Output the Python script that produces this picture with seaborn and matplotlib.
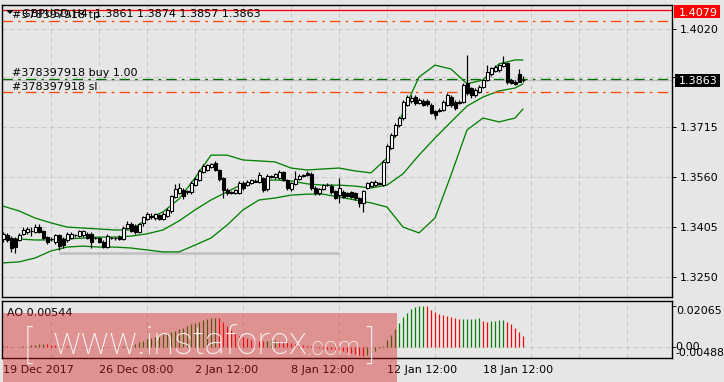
import numpy as np
import pandas as pd
import matplotlib
matplotlib.use("Agg")
import matplotlib.pyplot as plt
from matplotlib.patches import Rectangle, Polygon
from matplotlib.ticker import FixedLocator
import seaborn as sns

# ---------------- data ----------------
opens = [1.3369, 1.3382, 1.3372, 1.3370, 1.3366, 1.3385, 1.3390, 1.3393, 1.3391, 1.3405,
         1.3393, 1.3374, 1.3368, 1.3360, 1.3380, 1.3370, 1.3366, 1.3372, 1.3380, 1.3378,
         1.3380, 1.3386, 1.3386, 1.3372, 1.3372, 1.3360, 1.3345, 1.3372, 1.3372, 1.3375,
         1.3370, 1.3403, 1.3416, 1.3410, 1.3391, 1.3418, 1.3432, 1.3440, 1.3434, 1.3442,
         1.3432, 1.3440, 1.3455, 1.3500, 1.3512, 1.3521, 1.3515, 1.3515, 1.3537, 1.3552,
         1.3578, 1.3583, 1.3592, 1.3605, 1.3583, 1.3557, 1.3521, 1.3512, 1.3511, 1.3511,
         1.3542, 1.3536, 1.3542, 1.3547, 1.3547, 1.3558, 1.3524, 1.3562, 1.3560, 1.3558,
         1.3576, 1.3552, 1.3524, 1.3539, 1.3555, 1.3565, 1.3573, 1.3572, 1.3528, 1.3511,
         1.3524, 1.3535, 1.3534, 1.3517, 1.3505, 1.3514, 1.3511, 1.3514, 1.3511, 1.3495,
         1.3480, 1.3528, 1.3534, 1.3536, 1.3540, 1.3536, 1.3609, 1.3652, 1.3691, 1.3722,
         1.3744, 1.3784, 1.3797, 1.3809, 1.3790, 1.3798, 1.3797, 1.3784, 1.3767, 1.3766,
         1.3769, 1.3784, 1.3810, 1.3795, 1.3790, 1.3795, 1.3852, 1.3836, 1.3815, 1.3826,
         1.3841, 1.3862, 1.3880, 1.3890, 1.3893, 1.3905, 1.3914, 1.3862, 1.3857, 1.3880,
         1.3861]
highs = [1.3391, 1.3388, 1.3378, 1.3375, 1.3388, 1.3405, 1.3406, 1.3405, 1.3414, 1.3416,
         1.3398, 1.3378, 1.3376, 1.3386, 1.3385, 1.3375, 1.3390, 1.3390, 1.3386, 1.3398,
         1.3398, 1.3392, 1.3390, 1.3376, 1.3376, 1.3365, 1.3385, 1.3376, 1.3376, 1.3380,
         1.3408, 1.3424, 1.3422, 1.3416, 1.3420, 1.3440, 1.3452, 1.3450, 1.3450, 1.3448,
         1.3452, 1.3465, 1.3505, 1.3540, 1.3543, 1.3527, 1.3522, 1.3548, 1.3560, 1.3586,
         1.3600, 1.3602, 1.3606, 1.3612, 1.3586, 1.3560, 1.3526, 1.3518, 1.3525, 1.3548,
         1.3548, 1.3552, 1.3556, 1.3554, 1.3578, 1.3562, 1.3572, 1.3568, 1.3574, 1.3582,
         1.3580, 1.3556, 1.3546, 1.3580, 1.3570, 1.3570, 1.3580, 1.3576, 1.3532, 1.3528,
         1.3540, 1.3542, 1.3538, 1.3520, 1.3557, 1.3520, 1.3515, 1.3518, 1.3515, 1.3500,
         1.3522, 1.3546, 1.3550, 1.3552, 1.3546, 1.3614, 1.3662, 1.3697, 1.3728, 1.3750,
         1.3800, 1.3815, 1.3815, 1.3815, 1.3806, 1.3803, 1.3803, 1.3790, 1.3770, 1.3775,
         1.3800, 1.3822, 1.3815, 1.3800, 1.3800, 1.3852, 1.3939, 1.3840, 1.3836, 1.3846,
         1.3866, 1.3908, 1.3903, 1.3908, 1.3912, 1.3937, 1.3918, 1.3866, 1.3862, 1.3895,
         1.3874]
lows = [1.3360, 1.3360, 1.3329, 1.3326, 1.3362, 1.3380, 1.3386, 1.3378, 1.3388, 1.3388,
        1.3368, 1.3355, 1.3362, 1.3355, 1.3335, 1.3341, 1.3360, 1.3368, 1.3376, 1.3374,
        1.3375, 1.3368, 1.3341, 1.3368, 1.3356, 1.3342, 1.3342, 1.3368, 1.3366, 1.3365,
        1.3366, 1.3400, 1.3390, 1.3386, 1.3388, 1.3410, 1.3428, 1.3430, 1.3428, 1.3428,
        1.3428, 1.3436, 1.3450, 1.3495, 1.3508, 1.3493, 1.3510, 1.3510, 1.3533, 1.3548,
        1.3575, 1.3580, 1.3588, 1.3580, 1.3550, 1.3496, 1.3505, 1.3508, 1.3507, 1.3507,
        1.3520, 1.3532, 1.3538, 1.3545, 1.3543, 1.3515, 1.3518, 1.3558, 1.3556, 1.3554,
        1.3548, 1.3522, 1.3518, 1.3535, 1.3552, 1.3562, 1.3563, 1.3520, 1.3505, 1.3506,
        1.3520, 1.3532, 1.3510, 1.3492, 1.3480, 1.3495, 1.3498, 1.3495, 1.3490, 1.3469,
        1.3454, 1.3524, 1.3530, 1.3532, 1.3536, 1.3532, 1.3604, 1.3648, 1.3686, 1.3716,
        1.3738, 1.3780, 1.3790, 1.3785, 1.3786, 1.3780, 1.3782, 1.3755, 1.3741, 1.3762,
        1.3765, 1.3780, 1.3778, 1.3768, 1.3786, 1.3790, 1.3815, 1.3805, 1.3810, 1.3822,
        1.3836, 1.3858, 1.3875, 1.3886, 1.3888, 1.3902, 1.3849, 1.3850, 1.3845, 1.3855,
        1.3857]
closes = [1.3385, 1.3366, 1.3341, 1.3343, 1.3382, 1.3398, 1.3400, 1.3395, 1.3405, 1.3392,
          1.3372, 1.3360, 1.3370, 1.3382, 1.3346, 1.3350, 1.3385, 1.3386, 1.3382, 1.3393,
          1.3393, 1.3373, 1.3360, 1.3372, 1.3360, 1.3345, 1.3378, 1.3373, 1.3371, 1.3369,
          1.3403, 1.3416, 1.3394, 1.3391, 1.3415, 1.3437, 1.3445, 1.3438, 1.3445, 1.3432,
          1.3448, 1.3460, 1.3501, 1.3524, 1.3527, 1.3501, 1.3519, 1.3543, 1.3555, 1.3581,
          1.3594, 1.3598, 1.3601, 1.3583, 1.3554, 1.3521, 1.3511, 1.3515, 1.3521, 1.3542,
          1.3526, 1.3546, 1.3552, 1.3550, 1.3567, 1.3521, 1.3565, 1.3564, 1.3570, 1.3578,
          1.3552, 1.3526, 1.3542, 1.3555, 1.3565, 1.3567, 1.3567, 1.3526, 1.3511, 1.3524,
          1.3536, 1.3537, 1.3514, 1.3497, 1.3526, 1.3500, 1.3503, 1.3500, 1.3495, 1.3480,
          1.3518, 1.3542, 1.3545, 1.3547, 1.3542, 1.3609, 1.3656, 1.3691, 1.3722, 1.3744,
          1.3794, 1.3809, 1.3806, 1.3790, 1.3800, 1.3784, 1.3787, 1.3760, 1.3753, 1.3769,
          1.3795, 1.3815, 1.3784, 1.3774, 1.3795, 1.3846, 1.3821, 1.3815, 1.3831, 1.3841,
          1.3862, 1.3888, 1.3898, 1.3903, 1.3908, 1.3914, 1.3857, 1.3854, 1.3849, 1.3857,
          1.3863]

band_bars = list(range(0, 129, 4)) + [130]
upper_band = [1.3471, 1.3456, 1.3434, 1.3419, 1.3406, 1.3403, 1.3400, 1.3397, 1.3397, 1.3431,
              1.3453, 1.3493, 1.3558, 1.3629, 1.3629, 1.3614, 1.3611, 1.3608, 1.3589, 1.3583,
              1.3586, 1.3589, 1.3580, 1.3574, 1.3620, 1.3763, 1.3871, 1.3908, 1.3896, 1.3850,
              1.3862, 1.3912, 1.3924, 1.3924]
middle_band = [1.3372, 1.3369, 1.3366, 1.3366, 1.3369, 1.3372, 1.3375, 1.3375, 1.3378, 1.3385,
               1.3397, 1.3425, 1.3459, 1.3490, 1.3515, 1.3540, 1.3549, 1.3552, 1.3549, 1.3540,
               1.3536, 1.3536, 1.3533, 1.3527, 1.3536, 1.3571, 1.3629, 1.3682, 1.3732, 1.3781,
               1.3809, 1.3828, 1.3837, 1.3850]
lower_band = [1.3295, 1.3298, 1.3310, 1.3332, 1.3344, 1.3347, 1.3344, 1.3344, 1.3341, 1.3335,
              1.3329, 1.3329, 1.3350, 1.3372, 1.3412, 1.3459, 1.3490, 1.3496, 1.3505, 1.3508,
              1.3508, 1.3499, 1.3490, 1.3481, 1.3468, 1.3406, 1.3388, 1.3434, 1.3567, 1.3707,
              1.3744, 1.3732, 1.3744, 1.3772]

ao_values = [0.0004, 0.0003, 0.0002, 0.0001, 0.0002, 0.0004, 0.0006, 0.0009, 0.0012, 0.0014,
             0.0015, 0.0013, 0.0011, 0.0009, 0.0007, 0.0005, 0.0004, 0.0003, 0.0002, 0.0002,
             0.0001, 0.0001, 0.0000, -0.0001, -0.0002, -0.0003, -0.0002, -0.0001, 0.0001, 0.0004,
             0.0007, 0.0008, 0.0011, 0.0016, 0.0023, 0.0031, 0.0039, 0.0044, 0.0051, 0.0056,
             0.0064, 0.0069, 0.0075, 0.0082, 0.0089, 0.0097, 0.0105, 0.0113, 0.0120, 0.0126,
             0.0133, 0.0138, 0.0143, 0.0146,
             0.0143, 0.0126, 0.0105, 0.0085, 0.0069, 0.0057, 0.0049, 0.0043, 0.0036, 0.0033,
             0.0031, 0.0028, 0.0031, 0.0033, 0.0034, 0.0031, 0.0028, 0.0023, 0.0020, 0.0015,
             0.0011, 0.0008, 0.0007, 0.0003, 0.0000, -0.0003, -0.0007, -0.0010, -0.0012, -0.0014,
             -0.0017, -0.0021, -0.0025, -0.0029, -0.0034, -0.0040, -0.0045, -0.0041, -0.0030, -0.0018,
             -0.0006,
             0.0007, 0.0036, 0.0061, 0.0089, 0.0122, 0.0151, 0.0171, 0.0188, 0.0200, 0.0205,
             0.02065, 0.0203, 0.0187, 0.0176, 0.0164, 0.0159, 0.0154, 0.0151, 0.0143, 0.0139,
             0.0140, 0.0141, 0.0142, 0.01425, 0.0143, 0.0131, 0.0124, 0.0128, 0.0131, 0.0134,
             0.0135, 0.0126, 0.0115, 0.0093, 0.0075, 0.00544]

red_level = 1.4079
tp_level = 1.4045
buy_level = 1.3866
bid_level = 1.3863
sl_level = 1.3826
support_level = 1.3326
support_bars = [14, 84]

price_ticks = [1.3250, 1.3405, 1.3560, 1.3715, 1.3870, 1.4020]
price_tick_labels = ["1.3250", "1.3405", "1.3560", "1.3715", "", "1.4020"]
xtick_bars = [0, 24, 48, 72, 96, 120]
xtick_labels = ["19 Dec 2017", "26 Dec 08:00", "2 Jan 12:00", "8 Jan 12:00",
                "12 Jan 12:00", "18 Jan 12:00"]
header_text = "GBPUSD,H4  1.3861 1.3874 1.3857 1.3863"
tp_text = "#378397918 tp"
buy_text = "#378397918 buy 1.00"
sl_text = "#378397918 sl"
ao_text = "AO 0.00544"
ao_axis_labels = ["0.02065", "0.00", "-0.00488"]
price_boxes = ["1.4079", "1.3863"]

# ---------------- style ----------------
BG = "#e6e6e6"
sns.set_theme(style="white", rc={"axes.facecolor": BG, "figure.facecolor": BG,
                                 "axes.edgecolor": "black"})
plt.rcParams["font.family"] = ["DejaVu Sans"]

W, H = 724, 382
fig = plt.figure(figsize=(W / 100, H / 100), dpi=100)
fig.patch.set_facecolor(BG)


def fx(p):
    return p / W


def fy(p):
    return 1 - p / H


PX = 0.72  # one pixel in points

ax = fig.add_axes([fx(2), fy(297), (671.5 - 2) / W, (297 - 5) / H])
ax2 = fig.add_axes([fx(2), fy(357.7), (671.5 - 2) / W, (357.7 - 300.7) / H])

# ---------------- price panel ----------------
bars = np.arange(len(closes))
o = np.array(opens)
c = np.array(closes)
hi = np.array(highs)
lo = np.array(lows)
up = c >= o

ax.vlines(bars, lo, hi, color="black", lw=PX * 1.2, zorder=3)
body_h = np.maximum(np.abs(c - o), 0.00003)
ax.bar(bars, body_h, bottom=np.minimum(o, c), width=0.75,
       color=np.where(up, "white", "black"), edgecolor="black", linewidth=PX * 1.1, zorder=4)

bands = pd.DataFrame({"bar": band_bars, "upper": upper_band,
                      "middle": middle_band, "lower": lower_band})
for col in ("upper", "middle", "lower"):
    sns.lineplot(data=bands, x="bar", y=col, ax=ax, color="#008000", lw=PX * 1.3, zorder=2)
ax.set_xlabel("")
ax.set_ylabel("")

ax.plot(support_bars, [support_level, support_level], color="#c0c0c0", lw=PX * 2.6,
        solid_capstyle="butt", zorder=1)
ax.axhline(red_level, color="#ff0000", lw=PX * 1.3, zorder=2)
ax.axhline(tp_level, color="#ff4500", lw=PX * 1.3, dashes=(8, 4, 2, 4), zorder=2)
ax.axhline(sl_level, color="#ff4500", lw=PX * 1.3, dashes=(8, 4, 2, 4), zorder=2)
ax.axhline(bid_level, color="#c0c0c0", lw=PX * 1.3, zorder=1.5)
ax.axhline(buy_level, color="#007000", lw=PX * 1.3, dashes=(8, 4, 2, 4), zorder=2)

# ---------------- AO panel ----------------
ao = np.array(ao_values)
prev = np.concatenate([[ao[0]], ao[:-1]])
ao_colors = np.where(ao >= prev, "#008000", "#ff0000")
ax2.vlines(bars, 0, ao, colors=ao_colors, lw=PX * 1.2, zorder=3)

# ---------------- axes set-up (after plotting so limits stick) ----------------
xlim = (-0.25, -0.25 + (671.5 - 2) / 4)
for a in (ax, ax2):
    a.set_facecolor(BG)
    for s in a.spines.values():
        s.set_color("black")
        s.set_linewidth(PX * 1.4)
    a.xaxis.set_minor_locator(FixedLocator(list(range(12, 167, 12))))
    a.grid(which="minor", axis="x", color="#c4c4c4", lw=PX, ls=(0, (4, 4)))
    a.tick_params(which="minor", length=0)

ax.yaxis.tick_right()
ax.set_yticks(price_ticks)
ax.set_yticklabels(price_tick_labels)
ax.tick_params(axis="y", length=3, width=PX, pad=3.2, labelsize=8, colors="black",
               direction="out")
ax.grid(which="major", axis="y", color="#c4c4c4", lw=PX, ls=(0, (4, 4)))
ax.set_xticks([])

ax2.yaxis.tick_right()
ax2.set_yticks([0.02065, 0.0])
ax2.set_yticklabels(["", ""])
ax2.tick_params(axis="y", length=3, width=PX, direction="out")
ax2.axhline(0, color="#c4c4c4", lw=PX, ls=(0, (4, 4)), zorder=0.5)
ax2.set_xticks(xtick_bars)
ax2.set_xticklabels(xtick_labels)
ax2.tick_params(axis="x", length=4, width=PX, pad=1.6, labelsize=8, colors="black",
                direction="out")
for lab in ax2.get_xticklabels():
    lab.set_ha("left")

# limits last (set_*ticks may expand them)
for a in (ax, ax2):
    a.set_xlim(*xlim)
ax.set_ylim(1.31892, 1.40944)
ax2.set_ylim(-0.00535, 0.02315)

# ---------------- texts ----------------
def ptext(x, y, s, **kw):
    kw.setdefault("fontsize", 8)
    kw.setdefault("color", "black")
    kw.setdefault("va", "baseline")
    return fig.text(fx(x), fy(y), s, **kw)


fig.add_artist(Polygon([(fx(6), fy(10)), (fx(14), fy(10)), (fx(10), fy(14))],
                       closed=True, transform=fig.transFigure, facecolor="black",
                       edgecolor="none", zorder=6))
ptext(12, 18.3, tp_text, zorder=5)
ptext(22, 16.5, header_text, zorder=6)
ptext(12, 76.5, buy_text)
ptext(12, 89.8, sl_text)
ptext(7, 316, ao_text)

ptext(676, 314.5, ao_axis_labels[0])
ptext(675, 350, ao_axis_labels[1])
ptext(675, 355.5, ao_axis_labels[2], fontsize=7.8)

# right price boxes
fig.add_artist(Rectangle((fx(673.5), fy(18)), (719.5 - 673.5) / W, 13 / H,
                         transform=fig.transFigure, facecolor="#ff0000",
                         edgecolor="none", zorder=7))
ptext(679, 16, price_boxes[0], color="white", zorder=8)
fig.add_artist(Rectangle((fx(675), fy(87)), (719.5 - 675) / W, 13 / H,
                         transform=fig.transFigure, facecolor="black",
                         edgecolor="none", zorder=7))
ptext(679, 84.5, price_boxes[1], color="white", zorder=8)

# ---------------- watermark ----------------
fig.add_artist(Rectangle((fx(3), fy(382)), (397 - 3) / W, (382 - 313) / H,
                         transform=fig.transFigure, facecolor="#d41e1e", alpha=0.42,
                         edgecolor="none", zorder=9))

renderer = fig.canvas.get_renderer()


def fit_text(s, x, base, width, size0, **kw):
    t = ptext(x, base, s, fontsize=size0, **kw)
    bb = t.get_window_extent(renderer=renderer)
    t.set_fontsize(size0 * width / bb.width)
    return t


wm = dict(color="white", alpha=0.95, zorder=10, family=["Roboto", "DejaVu Sans"],
          fontweight="light")
fit_text("www.instaforex", 52, 354, 255, 24, **wm)
fit_text(".com", 306, 355, 54, 17, **wm)
ptext(24, 359, "[", fontsize=28, **wm)
ptext(366, 359, "]", fontsize=28, **wm)

fig.savefig("out.png", dpi=100, facecolor=BG)
